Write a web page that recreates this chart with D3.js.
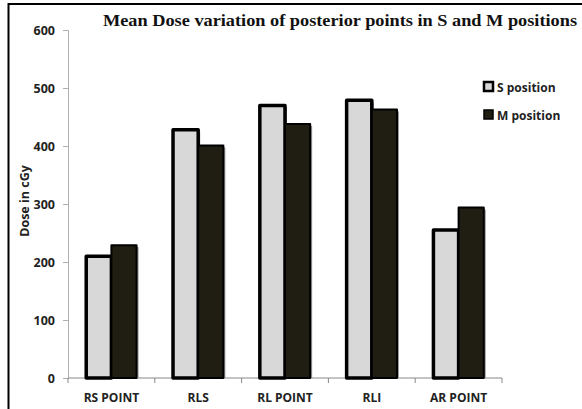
<!DOCTYPE html>
<html>
<head>
<meta charset="utf-8">
<script src="https://cdn.jsdelivr.net/npm/d3@7"></script>
<style>
  body { margin: 0; background: #fff; }
  svg text { font-family: "Open Sans", "Liberation Sans", sans-serif; }
</style>
</head>
<body>
<svg id="chart"></svg>
<script>
'use strict';

// data
var categories = ['RS POINT', 'RLS', 'RL POINT', 'RLI', 'AR POINT'];
var seriesNames = ['S position', 'M position'];
var sValues = [210, 428, 470, 479, 255];
var mValues = [229, 401, 438, 463, 294];
var yTicks = [0, 100, 200, 300, 400, 500, 600];

var W = 582, H = 409;
var margin = { top: 30, right: 80, bottom: 31, left: 68 };
var width = W - margin.left - margin.right;
var height = H - margin.top - margin.bottom;

var svg = d3.select('#chart').attr('width', W).attr('height', H);

// outer frame (left + top only visible)
svg.append('path')
  .attr('d', 'M8.5,' + H + 'V4H' + W)
  .attr('fill', 'none').attr('stroke', '#000').attr('stroke-width', 2);

var g = svg.append('g').attr('transform', 'translate(' + margin.left + ',' + margin.top + ')');

var x0 = d3.scaleBand().domain(categories).range([0, width]).paddingInner(0.42).paddingOuter(0.21);
var x1 = d3.scaleBand().domain(seriesNames).range([0, x0.bandwidth()]);
var y = d3.scaleLinear().domain([0, 600]).range([height, 0]);

// y axis
var yAxis = g.append('g')
  .call(d3.axisLeft(y).tickValues(yTicks).tickSize(5).tickPadding(8));
yAxis.select('.domain').attr('stroke', '#b0b0b0');
yAxis.selectAll('.tick line').attr('stroke', '#b0b0b0');
yAxis.selectAll('text').attr('font-size', 12.5).attr('font-weight', 'bold').attr('fill', '#222');

// x axis with ticks at band edges
var xAxis = g.append('g').attr('transform', 'translate(0,' + height + ')');
xAxis.append('line').attr('x1', 0).attr('x2', width).attr('stroke', '#888');
var edges = categories.map(function(c){ return x0(c) - x0.step() * x0.paddingInner() / 2; });
edges.push(width);
edges[0] = 0;
xAxis.selectAll('.xt').data(edges).enter().append('line')
  .attr('x1', function(d){ return d; }).attr('x2', function(d){ return d; })
  .attr('y1', 0).attr('y2', 5).attr('stroke', '#888');
xAxis.selectAll('.xl').data(categories).enter().append('text')
  .attr('x', function(d){ return x0(d) + x0.bandwidth() / 2; })
  .attr('y', 24).attr('text-anchor', 'middle')
  .attr('font-size', 12).attr('font-weight', 'bold').attr('fill', '#222')
  .text(function(d){ return d; });

// bars
var rows = categories.map(function(c, i){ return { cat: c, vals: [sValues[i], mValues[i]] }; });
var fills = ['#d8d8d8', '#201d12'];

var grp = g.selectAll('.grp').data(rows).enter().append('g')
  .attr('transform', function(d){ return 'translate(' + x0(d.cat) + ',0)'; });

// shadows
grp.selectAll('.sh').data(function(d){ return d.vals.map(function(v, j){ return { v: v, j: j }; }); })
  .enter().append('rect')
  .attr('x', function(d){ return x1(seriesNames[d.j]) + 2; })
  .attr('y', function(d){ return y(d.v) + 2; })
  .attr('width', x1.bandwidth())
  .attr('height', function(d){ return height - y(d.v) - 2; })
  .attr('fill', '#9a9a9a');

grp.selectAll('.bar').data(function(d){ return d.vals.map(function(v, j){ return { v: v, j: j }; }); })
  .enter().append('rect')
  .attr('x', function(d){ return x1(seriesNames[d.j]); })
  .attr('y', function(d){ return y(d.v); })
  .attr('width', x1.bandwidth())
  .attr('height', function(d){ return height - y(d.v); })
  .attr('fill', function(d){ return fills[d.j]; })
  .attr('stroke', '#000')
  .attr('stroke-width', function(d){ return d.j === 0 ? 3.5 : 2; })
  .attr('stroke-linejoin', 'round');

// y label
svg.append('text')
  .attr('transform', 'translate(29,201) rotate(-90)')
  .attr('text-anchor', 'middle').attr('font-size', 12.5).attr('font-weight', 'bold').attr('fill', '#222')
  .text('Dose in cGy');

// title
svg.append('text')
  .attr('x', 340).attr('y', 26).attr('text-anchor', 'middle')
  .attr('textLength', 474).attr('lengthAdjust', 'spacingAndGlyphs')
  .style('font-family', '"Liberation Serif", "Times New Roman", serif')
  .attr('font-size', 17.5).attr('font-weight', 'bold').attr('fill', '#111')
  .text('Mean Dose variation of posterior points in S and M positions');

// legend
var leg = svg.append('g').attr('transform', 'translate(484,82)');
var li = leg.selectAll('.li').data(seriesNames).enter().append('g')
  .attr('transform', function(d, i){ return 'translate(0,' + (i * 28) + ')'; });
li.append('rect').attr('x', 0).attr('y', 0).attr('width', 9).attr('height', 9)
  .attr('fill', function(d, i){ return fills[i]; })
  .attr('stroke', '#000').attr('stroke-width', function(d, i){ return i === 0 ? 2.5 : 1.5; });
li.append('text').attr('x', 13).attr('y', 9.5)
  .attr('font-size', 12).attr('font-weight', 'bold').attr('fill', '#222')
  .text(function(d){ return d; });
</script>
</body>
</html>
